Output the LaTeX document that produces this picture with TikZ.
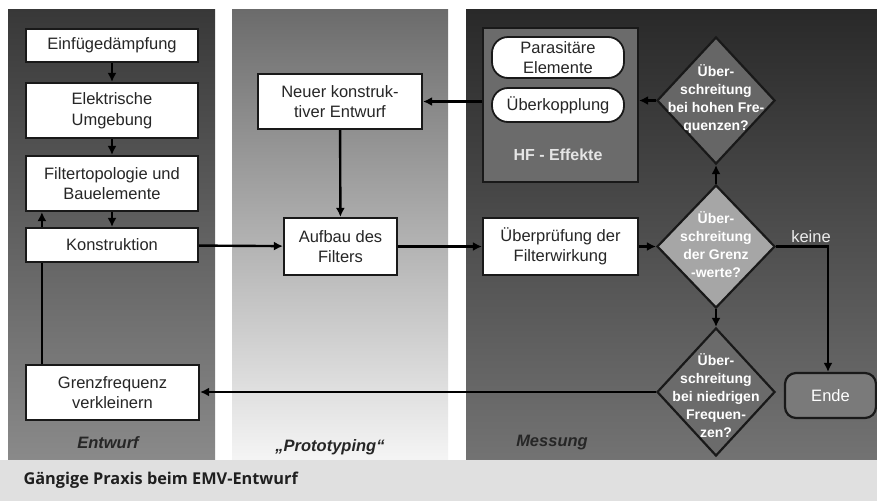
\documentclass[tikz,border=0pt]{standalone}
\usepackage{fontspec}
\setmainfont{Liberation Sans}
\newfontfamily\capfont{Open Sans}
\usetikzlibrary{shapes.geometric,arrows.meta}

\begin{document}
\begin{tikzpicture}[x=1pt,y=-1pt,
  box/.style={draw=black!90,line width=2.2pt,fill=white,align=center,inner sep=0pt,text=black!85,font=\fontsize{16.5}{20.5}\selectfont},
  pill/.style={box,line width=1.8pt,rounded corners=16pt},
  raute/.style={diamond,draw=black!90,line width=2.2pt,inner sep=0pt,minimum width=118pt},
  rautetext/.style={align=center,text=white,font=\bfseries\fontsize{14}{18}\selectfont},
  phase/.style={font=\bfseries\itshape\fontsize{16.5}{18}\selectfont,text=black!85},
  flow/.style={line width=2.4pt,-{Latex[length=9pt,width=9pt]}}]
  \useasboundingbox (0,0) rectangle (877,501);
  \fill[white] (0,0) rectangle (877,501);
  \shade[top color=black!78,bottom color=black!46] (8,9) rectangle (215,460);
  \shade[top color=black!58,bottom color=black!4] (232,9) rectangle (448,460);
  \shade[top color=black!84,bottom color=black!55] (466,9) rectangle (877,460);
  \fill[black!12] (0,460) rectangle (877,501);

  \node[box,minimum width=172pt,minimum height=33pt] (einf) at (112,45.5) {Einfügedämpfung};
  \node[box,minimum width=172pt,minimum height=55pt] (elek) at (112,110.5) {Elektrische\\Umgebung};
  \node[box,minimum width=172pt,minimum height=55pt] (filt) at (112,183.5) {Filtertopologie und\\Bauelemente};
  \node[box,minimum width=172pt,minimum height=34pt] (kons) at (112,245) {Konstruktion};
  \node[box,minimum width=173pt,minimum height=55pt] (grenz) at (112.5,392.5) {Grenzfrequenz\\verkleinern};
  \node[box,minimum width=164pt,minimum height=55pt] (neuer) at (340,101.5) {Neuer konstruk-\\tiver Entwurf};
  \node[box,minimum width=113pt,minimum height=57pt] (aufbau) at (340.5,246.5) {Aufbau des\\Filters};
  \node[box,fill=black!58,minimum width=155pt,minimum height=154pt] (hf) at (560.5,105) {};
  \node[pill,minimum width=132pt,minimum height=41pt] (para) at (558,57.5) {Parasitäre\\Elemente};
  \node[pill,minimum width=132pt,minimum height=34pt] (kopp) at (558,105) {Überkopplung};
  \node[text=black!10,font=\bfseries\fontsize{16}{18}\selectfont] (hflabel) at (558,155) {HF - Effekte};
  \node[box,minimum width=155pt,minimum height=57pt] (pruef) at (560.5,246.5) {Überprüfung der\\Filterwirkung};
  \node[raute,fill=black!60,minimum height=127pt] (hoch) at (716,100.5) {};
  \node[rautetext] at (716,99) {Über-\\schreitung\\bei hohen Fre-\\quenzen?};
  \node[raute,fill=black!35,minimum height=123pt] (wert) at (716,246.5) {};
  \node[rautetext] at (716,245) {Über-\\schreitung\\der Grenz\\-werte?};
  \node[raute,fill=black!58,minimum height=128pt] (nied) at (716,392) {};
  \node[rautetext] at (716,396) {Über-\\schreitung\\bei niedrigen\\Frequen-\\zen?};
  \node[box,fill=black!52,text=white,rounded corners=11pt,minimum width=91pt,minimum height=45pt] (ende) at (830.5,395.5) {Ende};
  \node[text=black!8,font=\fontsize{16.5}{18}\selectfont] (keine) at (811,237) {keine};

  \node[phase] (entwurf) at (108,443) {Entwurf};
  \node[phase] (proto) at (330,447) {„Prototyping“};
  \node[phase] (messung) at (552,443) {Messung};
  \node[anchor=west,text=black!88,font=\capfont\bfseries\fontsize{16.3}{18}\selectfont] (caption) at (20,480) {Gängige Praxis beim EMV-Entwurf};

  \draw[flow] (einf) -- (elek);
  \draw[flow] (elek) -- (filt);
  \draw[flow] (filt) -- (kons);
  \draw[flow] ([xshift=17pt]kons.north west) -- ([xshift=17pt]filt.south west);
  \draw[line width=2.4pt] ([xshift=17pt]grenz.north west) -- ([xshift=17pt]kons.south west);
  \draw[flow] (kons) -- (aufbau);
  \draw[flow] (neuer) -- (aufbau);
  \draw[flow] (aufbau) -- (pruef);
  \draw[flow] (pruef) -- (wert);
  \draw[flow] (wert) -- (hoch);
  \draw[flow] (hoch.west) -- (hoch.west -| hf.east);
  \draw[flow] (neuer.east -| hf.west) -- (neuer.east);
  \draw[flow] (wert.east) -| ([xshift=-2.5pt]ende.north);
  \draw[flow] (wert) -- (nied);
  \draw[flow] (nied.west) -- (nied.west -| grenz.east);
\end{tikzpicture}
\end{document}
